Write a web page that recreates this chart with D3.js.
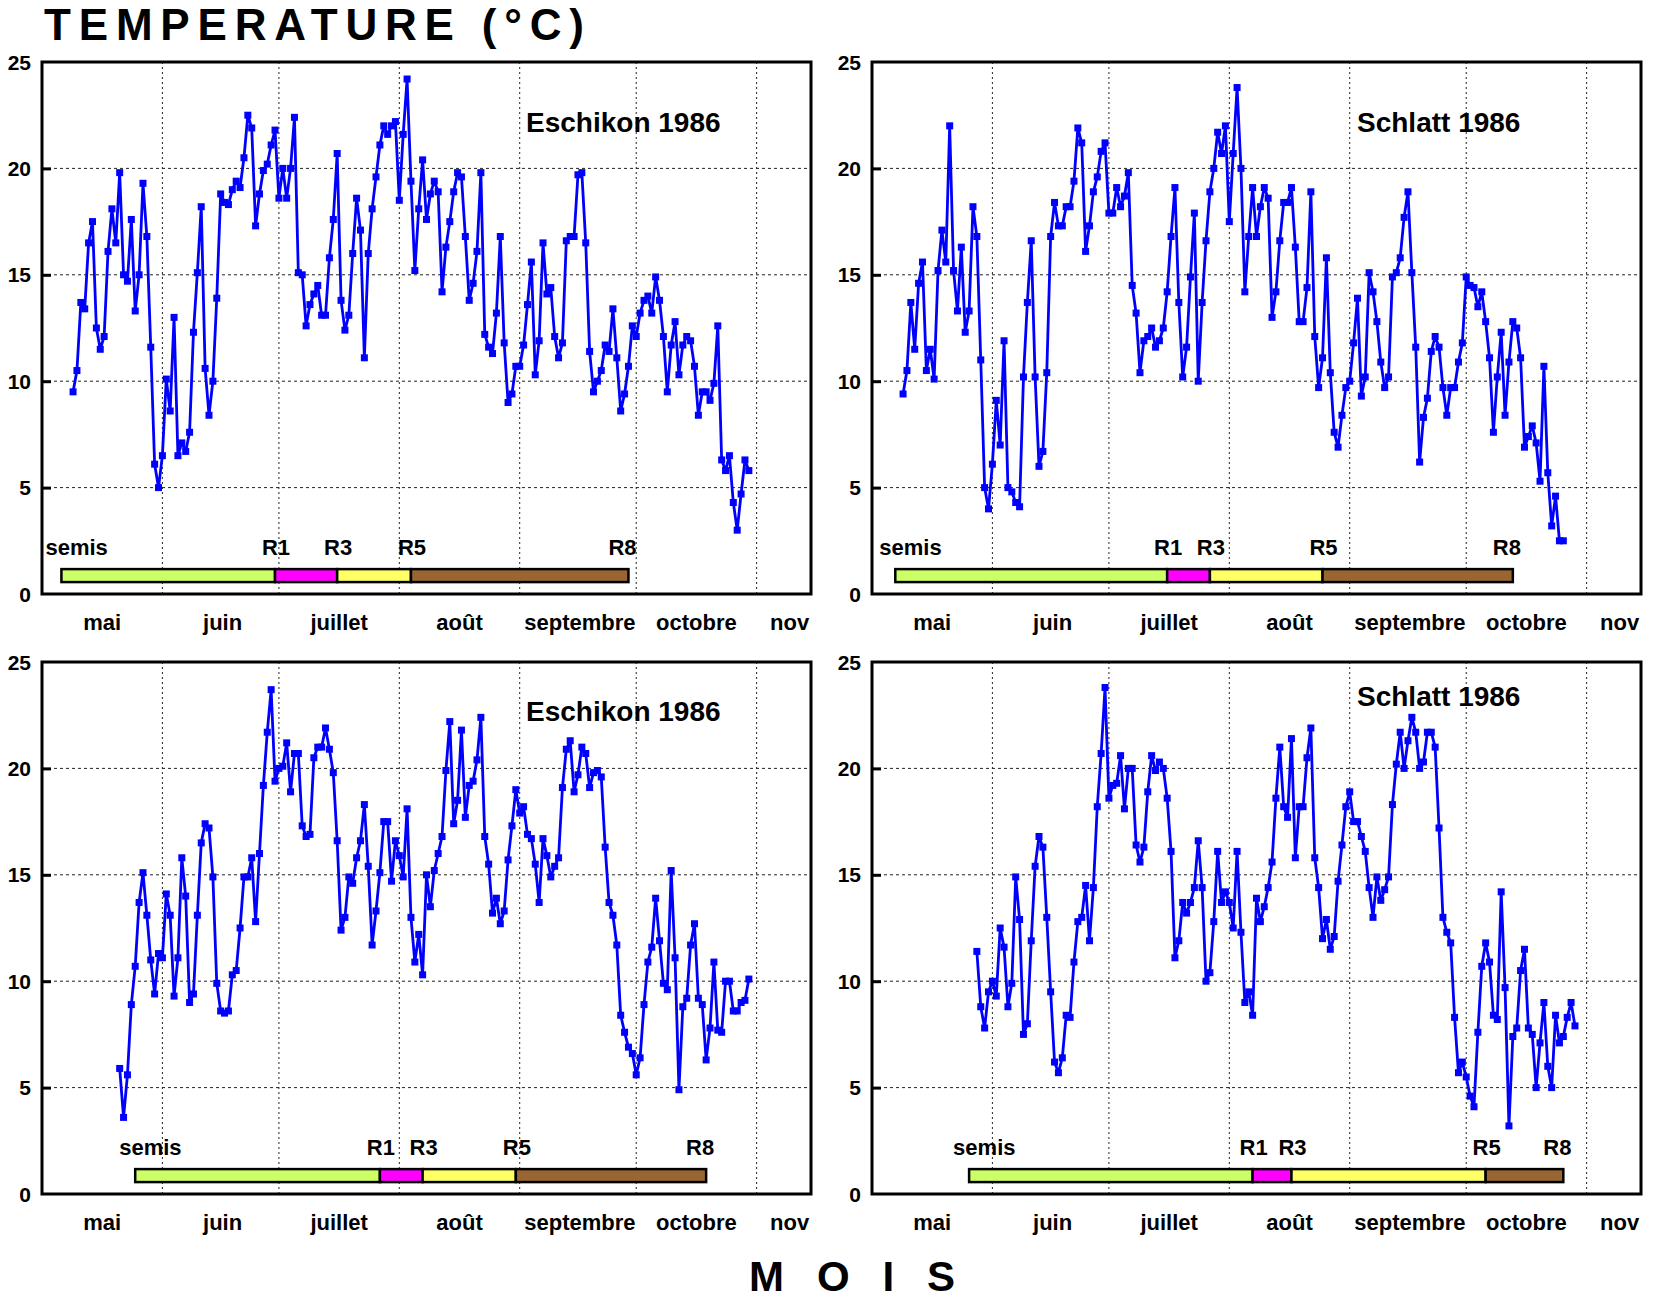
<!DOCTYPE html>
<html>
<head>
<meta charset="utf-8">
<script src="https://cdn.jsdelivr.net/npm/d3@7"></script>
<style>
  body { margin: 0; background: #fff; }
  svg text { font-family: 'Liberation Sans', Arial, sans-serif; font-weight: bold; fill: #000; }
</style>
</head>
<body>
<svg id="chart" width="1662" height="1302"></svg>
<script>
// DATA
var months = ['mai', 'juin', 'juillet', 'août', 'septembre', 'octobre', 'nov'];
var yTicks = [0, 5, 10, 15, 20, 25];
var stageNames = ['semis', 'R1', 'R3', 'R5', 'R8'];
var stageColors = ['#ccff66', '#ff00ff', '#ffff66', '#996633'];

// daily mean temperature, one value per day from the start date
var eschikonTopStart = '1986-05-09';
var eschikonTop = [
    9.5, 10.5, 13.7, 13.4, 16.5, 17.5, 12.5, 11.5, 12.1, 16.1,
    18.1, 16.5, 19.8, 15.0, 14.7, 17.6, 13.3, 15.0, 19.3, 16.8,
    11.6, 6.1, 5.0, 6.5, 10.1, 8.6, 13.0, 6.5, 7.1, 6.7,
    7.6, 12.3, 15.1, 18.2, 10.6, 8.4, 10.0, 13.9, 18.8, 18.4,
    18.3, 19.0, 19.4, 19.1, 20.5, 22.5, 21.9, 17.3, 18.8, 19.9,
    20.2, 21.1, 21.8, 18.6, 20.0, 18.6, 20.0, 22.4, 15.1, 15.0,
    12.6, 13.6, 14.1, 14.5, 13.1, 13.1, 15.8, 17.6, 20.7, 13.8,
    12.4, 13.1, 16.0, 18.6, 17.1, 11.1, 16.0, 18.1, 19.6, 21.1,
    22.0, 21.6, 22.0, 22.2, 18.5, 21.6, 24.2,
    19.4, 15.2, 18.1, 20.4, 17.6, 18.8, 19.4, 18.9, 14.2, 16.3,
    17.5, 18.9, 19.8, 19.6, 16.8, 13.8, 14.6, 16.1, 19.8, 12.2,
    11.6, 11.3, 13.2, 16.8, 11.8, 9.0, 9.4, 10.7, 10.7, 11.7,
    13.6, 15.6, 10.3, 11.9, 16.5, 14.1, 14.4, 12.1, 11.1, 11.8,
    16.6, 16.8, 16.8, 19.7, 19.8, 16.5, 11.4, 9.5, 10.0, 10.5,
    11.7, 11.4, 13.4, 11.1, 8.6, 9.4, 10.7, 12.6, 12.1, 13.2,
    13.8, 14.0, 13.2, 14.9, 13.8, 12.1, 9.5, 11.7, 12.8, 10.3,
    11.7, 12.1, 11.9, 10.7, 8.4, 9.5, 9.5, 9.1, 9.9, 12.6,
    6.3, 5.8, 6.5, 4.3, 3.0, 4.7, 6.3, 5.8
];
var eschikonTopStages = ['1986-05-06', '1986-06-30', '1986-07-16', '1986-08-04', '1986-09-29'];

var schlattTopStart = '1986-05-09';
var schlattTop = [
    9.4, 10.5, 13.7, 11.5, 14.6, 15.6, 10.5, 11.5, 10.1, 15.2,
    17.1, 15.6, 22.0, 15.2, 13.3, 16.3, 12.3, 13.3, 18.2, 16.8,
    11.0, 5.0, 4.0, 6.1, 9.1, 7.0, 11.9, 5.0, 4.8, 4.3,
    4.1, 10.2, 13.7, 16.6, 10.2, 6.0, 6.7, 10.4, 16.8, 18.4,
    17.3, 17.3, 18.2, 18.2, 19.4, 21.9, 21.2, 16.1, 17.3, 18.9,
    19.6, 20.8, 21.2, 17.9, 17.9, 19.1, 18.2, 18.7, 19.8, 14.5,
    13.2, 10.4, 11.9, 12.1, 12.5, 11.6, 11.9, 12.5, 14.2, 16.8,
    19.1, 13.7, 10.2, 11.6, 14.9, 17.9, 10.0, 13.7, 16.6, 18.9,
    20.0, 21.7, 20.7, 22.0, 17.5, 20.7, 23.8,
    20.0, 14.2, 16.8, 19.1, 16.8, 18.2, 19.1, 18.6, 13.0, 14.2,
    16.6, 18.4, 18.4, 19.1, 16.3, 12.8, 12.8, 14.4, 18.9, 12.1,
    9.7, 11.1, 15.8, 10.4, 7.6, 6.9, 8.4, 9.7, 10.0, 11.8,
    13.9, 9.3, 10.2, 15.1, 14.2, 12.8, 10.9, 9.7, 10.2, 14.9,
    15.1, 15.8, 17.7, 18.9, 15.1, 11.6, 6.2, 8.3, 9.2, 11.4,
    12.1, 11.6, 9.7, 8.4, 9.7, 9.7, 10.9, 11.8, 14.9, 14.5,
    14.4, 13.5, 14.2, 12.8, 11.1, 7.6, 10.2, 12.3, 8.4, 10.9,
    12.8, 12.5, 11.1, 6.9, 7.4, 7.9, 7.1, 5.3, 10.7, 5.7,
    3.2, 4.6, 2.5, 2.5
];
var schlattTopStages = ['1986-05-07', '1986-07-16', '1986-07-27', '1986-08-25', '1986-10-13'];

var eschikonBottomStart = '1986-05-21';
var eschikonBottom = [
    5.9, 3.6, 5.6, 8.9, 10.7, 13.7, 15.1, 13.1, 11.0, 9.4,
    11.3, 11.1, 14.1, 13.1, 9.3, 11.1, 15.8, 14.0, 9.0, 9.4,
    13.1, 16.5, 17.4, 17.2, 14.9, 9.9, 8.6, 8.5, 8.6, 10.3,
    10.5, 12.5, 14.9, 14.9, 15.8, 12.8, 16.0, 19.2, 21.7, 23.7,
    19.4, 20.0, 20.1, 21.2, 18.9, 20.7, 20.7, 17.3, 16.8, 16.9,
    20.5, 21.0, 21.0, 21.9, 20.9, 19.8, 16.6, 12.4, 13.0, 14.9,
    14.6, 15.8, 16.6, 18.3, 15.4, 11.7, 13.3, 15.1, 17.5, 17.5,
    14.7, 16.6, 15.9, 14.9, 18.1, 13.0, 10.9, 12.2, 10.3, 15.0,
    13.5, 15.2, 16.0, 16.8,
    19.9, 22.2, 17.4, 18.5, 21.8, 17.7, 19.2, 19.4, 20.4, 22.4,
    16.8, 15.5, 13.2, 13.9, 12.7, 13.3, 15.7, 17.3, 19.0, 17.9,
    18.2, 16.9, 16.7, 15.5, 13.7, 16.7, 15.9, 14.9, 15.4, 15.8,
    19.1, 20.9, 21.3, 18.9, 19.7, 21.0, 20.7, 19.1, 19.8, 19.9,
    19.6, 16.3, 13.7, 13.1, 11.7, 8.4, 7.6, 6.9, 6.6, 5.6,
    6.4, 8.9, 10.9, 11.6, 13.9, 11.9, 9.9, 9.6, 15.2, 11.1,
    4.9, 8.8, 9.2, 11.7, 12.7, 9.2, 8.9, 6.3, 7.8, 10.9,
    7.7, 7.6, 10.0, 10.0, 8.6, 8.6, 9.0, 9.1, 10.1
];
var eschikonBottomStages = ['1986-05-25', '1986-07-27', '1986-08-07', '1986-08-31', '1986-10-19'];

var schlattBottomStart = '1986-05-28';
var schlattBottom = [
    11.4, 8.8, 7.8, 9.5, 10.0, 9.3, 12.5, 11.6, 8.8, 9.9,
    14.9, 12.9, 7.5, 8.0, 11.9, 15.4, 16.8, 16.3, 13.0, 9.5,
    6.2, 5.7, 6.4, 8.4, 8.3, 10.9, 12.8, 13.0, 14.5, 11.9,
    14.4, 18.2, 20.7, 23.8, 18.6, 19.2, 19.3, 20.6, 18.1, 20.0,
    20.0, 16.4, 15.6, 16.3, 18.9, 20.6, 19.9, 20.3, 20.0, 18.6,
    16.1, 11.1, 11.9, 13.7, 13.2, 13.7, 14.4, 16.6, 14.4, 10.0,
    10.4, 12.8, 16.1, 13.7, 14.2, 13.7, 12.5, 16.1, 12.3, 9.0,
    9.5, 8.4, 13.9, 12.8, 13.5, 14.4, 15.6,
    18.6, 21.0, 18.2, 17.7, 21.4, 15.8, 18.2, 18.2, 20.5, 21.9,
    15.8, 14.4, 12.0, 12.9, 11.5, 12.1, 14.7, 16.4, 18.2, 18.9,
    17.5, 17.5, 16.8, 16.1, 14.4, 13.0, 14.9, 13.8, 14.3, 14.9,
    18.3, 20.2, 21.7, 20.0, 21.3, 22.4, 21.7, 20.0, 20.3, 21.7,
    21.7, 21.0, 17.2, 13.0, 12.3, 11.8, 8.3, 5.7, 6.2, 5.5,
    4.6, 4.1, 7.6, 10.7, 11.8, 10.9, 8.4, 8.2, 14.2, 9.7,
    3.2, 7.4, 7.8, 10.5, 11.5, 7.8, 7.5, 5.0, 7.1, 9.0,
    6.0, 5.0, 8.4, 7.1, 7.4, 8.3, 9.0, 7.9
];
var schlattBottomStages = ['1986-05-26', '1986-08-07', '1986-08-17', '1986-10-06', '1986-10-26'];

// LAYOUT
var parse = d3.utcParse('%Y-%m-%d');
var xStart = parse('1986-05-01'), xEnd = parse('1986-11-15');
var W = 769, H = 532;
var svg = d3.select('#chart');

var panels = [
    { title: 'Eschikon 1986', start: eschikonTopStart, values: eschikonTop, stages: eschikonTopStages,
      left: 42, top: 62, titleX: 526, titleY: 70 },
    { title: 'Schlatt 1986', start: schlattTopStart, values: schlattTop, stages: schlattTopStages,
      left: 872, top: 62, titleX: 1357, titleY: 70 },
    { title: 'Eschikon 1986', start: eschikonBottomStart, values: eschikonBottom, stages: eschikonBottomStages,
      left: 42, top: 662, titleX: 526, titleY: 59 },
    { title: 'Schlatt 1986', start: schlattBottomStart, values: schlattBottom, stages: schlattBottomStages,
      left: 872, top: 662, titleX: 1357, titleY: 44 }
];

// PANEL
function drawPanel(p) {
    var g = svg.append('g').attr('transform', 'translate(' + p.left + ',' + p.top + ')');

    var x = d3.scaleUtc().domain([xStart, xEnd]).range([0, W]);
    var y = d3.scaleLinear().domain([0, 25]).range([H, 0]);

    // Grid lines
    var monthStarts = d3.utcMonth.range(xStart, parse('1986-12-01'));
    g.selectAll('line.vgrid')
        .data(monthStarts.slice(1))
        .enter().append('line')
        .attr('x1', function(d) { return x(d); })
        .attr('x2', function(d) { return x(d); })
        .attr('y1', 0).attr('y2', H)
        .style('stroke', '#222').style('stroke-width', 1)
        .style('stroke-dasharray', '2,3');
    g.selectAll('line.hgrid')
        .data(yTicks.filter(function(t) { return t > 0 && t < 25; }))
        .enter().append('line')
        .attr('x1', 0).attr('x2', W)
        .attr('y1', function(d) { return y(d); })
        .attr('y2', function(d) { return y(d); })
        .style('stroke', '#222').style('stroke-width', 1)
        .style('stroke-dasharray', '3,3');

    // Y axis: inner ticks and labels
    g.append('g')
        .call(d3.axisLeft(y).tickValues(yTicks.slice(1, -1)).tickSizeInner(-9).tickSizeOuter(0).tickFormat(''))
        .call(function(a) {
            a.select('.domain').remove();
            a.selectAll('line').style('stroke', '#000').style('stroke-width', 3);
        });
    g.selectAll('text.ylab')
        .data(yTicks)
        .enter().append('text')
        .attr('x', -11)
        .attr('y', function(d) { return y(d); })
        .attr('dy', '0.36em')
        .attr('text-anchor', 'end')
        .style('font-size', '21px')
        .text(function(d) { return d; });

    // Month labels
    g.selectAll('text.month')
        .data(monthStarts)
        .enter().append('text')
        .attr('x', function(d) {
            var days = d3.utcDay.count(d, d3.min([d3.utcMonth.offset(d, 1), xEnd]));
            return x(d3.utcHour.offset(d, 24 * Math.min(15.5, days / 2 + 1.5)));
        })
        .attr('y', H + 36)
        .attr('text-anchor', 'middle')
        .style('font-size', '22px')
        .text(function(d, i) { return months[i]; });

    // Phenology bar
    var st = p.stages.map(parse);
    var segs = d3.pairs(st);
    g.selectAll('rect.stage')
        .data(segs)
        .enter().append('rect')
        .attr('x', function(d) { return x(d[0]); })
        .attr('width', function(d) { return x(d[1]) - x(d[0]); })
        .attr('y', y(1.17))
        .attr('height', y(0.56) - y(1.17))
        .style('fill', function(d, i) { return stageColors[i]; })
        .style('stroke', '#000').style('stroke-width', 2.5);
    g.selectAll('text.stage')
        .data(st)
        .enter().append('text')
        .attr('x', function(d, i) {
            if (i == 0) return x(d) - 16;
            if (i == st.length - 1) return x(d) - 6;
            return x(d) + 1;
        })
        .attr('y', y(1.83))
        .attr('text-anchor', function(d, i) { return i == 0 ? 'start' : 'middle'; })
        .style('font-size', '22px')
        .text(function(d, i) { return stageNames[i]; });

    // Temperature line
    var start = parse(p.start);
    var pts = p.values.map(function(v, i) { return { date: d3.utcDay.offset(start, i), v: v }; });
    var lineGen = d3.line()
        .x(function(d) { return x(d.date); })
        .y(function(d) { return y(d.v); });
    g.append('path')
        .attr('d', lineGen(pts))
        .style('fill', 'none')
        .style('stroke', '#0000ff')
        .style('stroke-width', 2.8)
        .style('stroke-linejoin', 'round');
    g.selectAll('rect.pt')
        .data(pts)
        .enter().append('rect')
        .attr('x', function(d) { return x(d.date) - 3.5; })
        .attr('y', function(d) { return y(d.v) - 3.5; })
        .attr('width', 7).attr('height', 7)
        .style('fill', '#0000ff');

    // Frame
    g.append('rect')
        .attr('width', W).attr('height', H)
        .style('fill', 'none')
        .style('stroke', '#000').style('stroke-width', 3);

    // Site title
    g.append('text')
        .attr('x', p.titleX - p.left)
        .attr('y', p.titleY)
        .style('font-size', '28px')
        .text(p.title);
}

panels.forEach(drawPanel);

// TITLES
svg.append('text')
    .attr('x', 44).attr('y', 40)
    .attr('textLength', 540).attr('lengthAdjust', 'spacing')
    .style('font-size', '44px')
    .text('TEMPERATURE (°C)');
svg.append('text')
    .attr('x', 749).attr('y', 1291)
    .attr('textLength', 206).attr('lengthAdjust', 'spacing')
    .style('font-size', '42px')
    .text('M O I S');
</script>
</body>
</html>
